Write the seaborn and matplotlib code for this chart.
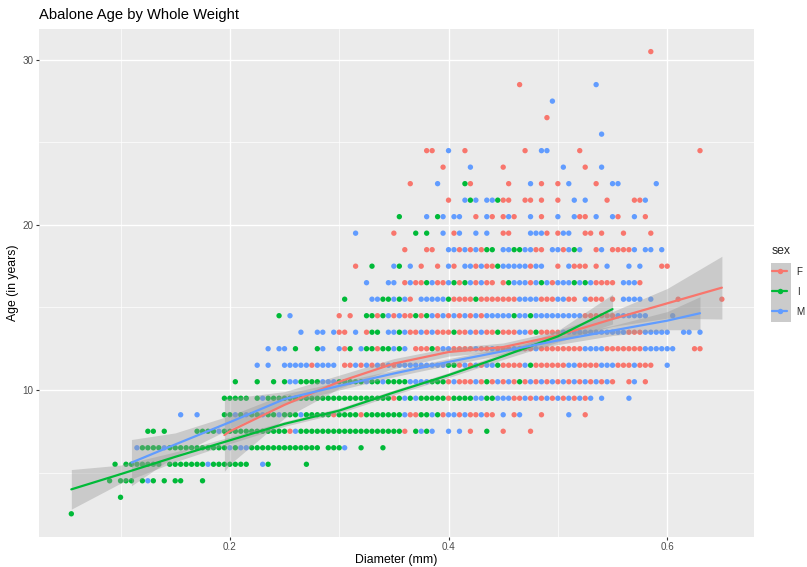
import numpy as np
import pandas as pd
import matplotlib
matplotlib.use("Agg")
import matplotlib.pyplot as plt
import seaborn as sns
from matplotlib.lines import Line2D
from matplotlib.patches import Rectangle

# diameter is recorded on a 0.005 grid, ages are rings + 1.5
STEP = 0.005
ages = [2.5, 3.5, 4.5, 5.5, 6.5, 7.5, 8.5, 9.5, 10.5, 11.5, 12.5, 13.5, 14.5, 15.5,
        16.5, 17.5, 18.5, 19.5, 20.5, 21.5, 22.5, 23.5, 24.5, 25.5, 26.5, 27.5,
        28.5, 29.5, 30.5]

# visible points per age row, as runs of grid steps (k * 0.005 = diameter)
infant_runs = [
    "11", "20", "18,20-22,24,26,28,30-31,35", "19,21-27,29-35,37-43,47,54",
    "24-27,29-39,41,44-56,58-60,64,68", "25-26,28,34-37,39-50,53-71,74,76,87",
    "39-40,42,44-45,47-48,50-52,54-58,60-63,65-71,75-76,78",
    "39-43,45,47-69,71,73,75-79,81-84,87-88",
    "41,45,48,50,53-56,60-64,66-67,69-72,77-79,87,93",
    "80-81,89,95", "52,56,62,65-66,68-69,71,77", "66-67,71,81,89,96",
    "49,65-66,68,74,76,92,95", "61,68-69,71,80,85", "76,81,83,91,97,103,105",
    "66,71,89", "87-88,92-93,103", "74,76", "71,78", "84,89", "83",
    "", "", "", "", "", "", "", "",
]
male_runs = [
    "", "", "25", "36,46", "23,28,40,42-43,61", "38,52,75,77,80,82",
    "31,34,41,43,46,49,53,72,77,80-81,83,86,90,93,102",
    "46,72,74,85-86,89-91,94,96,98,100,102,104,106,108,113",
    "51-52,57-59,65,68,73-76,81,85,89,91,95,97,99,101,103,105,107,109,114",
    "45,47,50-54,56-59,63,65,67,69,71-79,83,85,87-88,94,102-103,108-110,114,120",
    "47,49-50,57,60,64,70,72,79-80,85,88,92,96,105-108,116-121",
    "53,56-57,59,63,69-70,72,75,77,84,86,93-94,101-112,116-120,123-124,126",
    "51,69,71,77,79,81,83,85,87-91,93-94,96-104,111-116,121",
    "66-67,70,72,75-79,93-96,100-101,105,112-115,117",
    "65,69-70,73,77,80,84,86,92-94,96,98,100-102,104,106,112-114",
    "70,73,80,83-84,86,90-94,96-97,102,109,113,115",
    "80-81,83,85,90-91,94-95,99-100,102,104,108,114,116-117,119",
    "63,79,82,85,87,95-97,101-102",
    "76,79,81-82,87,91,95,100,103,107,110,114",
    "83,85,87-88,103,105,116", "78,95,102,110-111,118", "84,101,108", "80,97-98",
    "108", "", "99", "107", "", "",
]
female_runs = [
    "", "", "", "", "", "51,72,84,90,95",
    "59,64,73-74,79,82,84-85,87-88,92,97,105",
    "70,80,92-93,95,97,99,101,103,105",
    "80,82-84,86,88,90,92,94,96,98,100,102,104,106,108,110,113,116",
    "55,61-62,64,66,68,70,82,84,86,90-93,96-101,104-107,111-113,115-117",
    "61,67,74-76,78,81-84,86-87,89-91,93-95,97-104,109-115,125-126",
    "60-61,65,73-74,76,78-80,82-83,85,87-88,90-92,95,97-100,113-115",
    "60,62,67,70,72-73,75,78,80,82,84,86,105-110",
    "73,81-84,86-92,97-99,102-103,106-108,110,122,130",
    "72,74-75,78-79,82,85,87-88,90,95,99,107-110,115",
    "63,75,78,81,85,87-88,95,100,103-105,107,119-120",
    "72,76-77,82,84,86,96-97,101,107,110-113",
    "70,81,90-91,98,100,105-106,108,112,117",
    "85,88,90,92,97,104-105,111,116",
    "80,90-91,94-95,97,100,109,114-115",
    "73,84,91,97,100,107", "79,90,105", "76-77,83,94,104,126",
    "", "98", "", "93", "", "117",
]

# smoothed trend per sex (fit and half-width of the confidence band)
f_diam = [0.195, 0.2, 0.25, 0.3, 0.35, 0.4, 0.45, 0.5, 0.55, 0.6, 0.65]
f_fit = [7.27, 7.5, 9.1, 10.5, 11.6, 12.3, 12.6, 13.3, 14.3, 15.25, 16.2]
f_se = [2.2, 2.0, 0.8, 0.4, 0.3, 0.25, 0.25, 0.3, 0.45, 0.9, 1.9]

i_diam = [0.055, 0.1, 0.15, 0.2, 0.25, 0.3, 0.35, 0.4, 0.45, 0.5, 0.55]
i_fit = [3.98, 4.9, 5.95, 6.95, 7.95, 8.75, 9.85, 10.9, 12.05, 13.25, 14.9]
i_se = [1.2, 0.55, 0.3, 0.2, 0.15, 0.15, 0.15, 0.15, 0.2, 0.35, 0.9]

m_diam = [0.11, 0.15, 0.2, 0.25, 0.3, 0.35, 0.4, 0.45, 0.5, 0.55, 0.6, 0.63]
m_fit = [5.6, 6.7, 8.05, 9.45, 10.25, 11.0, 11.7, 12.35, 13.0, 13.6, 14.2, 14.65]
m_se = [1.4, 0.7, 0.4, 0.3, 0.25, 0.2, 0.2, 0.2, 0.25, 0.3, 0.55, 1.0]

sexes = ["F", "I", "M"]
palette = {"F": "#F8766D", "I": "#00BA38", "M": "#619CFF"}


def expand(runs, sex):
    rows = []
    for age, spec in zip(ages, runs):
        for part in spec.split(","):
            if not part:
                continue
            a, _, b = part.partition("-")
            for k in range(int(a), int(b or a) + 1):
                rows.append({"diameter": round(k * STEP, 3), "age": age, "sex": sex})
    return rows


points = pd.DataFrame(expand(female_runs, "F") + expand(infant_runs, "I")
                      + expand(male_runs, "M"))

smooth = pd.concat([
    pd.DataFrame({"diameter": f_diam, "age": f_fit, "se": f_se, "sex": "F"}),
    pd.DataFrame({"diameter": i_diam, "age": i_fit, "se": i_se, "sex": "I"}),
    pd.DataFrame({"diameter": m_diam, "age": m_fit, "se": m_se, "sex": "M"}),
], ignore_index=True)

sns.set_theme(style="darkgrid")
plt.rcParams.update({
    "font.family": ["Liberation Sans", "DejaVu Sans"],
    "axes.facecolor": "#EBEBEB",
    "figure.facecolor": "white",
    "grid.color": "white",
})

W, H = 807, 567
fig = plt.figure(figsize=(W / 100, H / 100), dpi=100)
ax = fig.add_axes([38.8 / W, 1 - 536.9 / H, (754.4 - 38.8) / W, (536.9 - 28.5) / H])

sns.scatterplot(data=points, x="diameter", y="age", hue="sex", hue_order=sexes,
                palette=palette, s=15, linewidth=0, legend=False, ax=ax, zorder=2)

for sex in sexes:
    part = smooth[smooth["sex"] == sex]
    ax.fill_between(part["diameter"], part["age"] - part["se"], part["age"] + part["se"],
                    color="#999999", alpha=0.4, linewidth=0, zorder=3)
    sns.lineplot(data=part, x="diameter", y="age", color=palette[sex], linewidth=1.6,
                 ax=ax, zorder=4)

ax.set_xlim(0.02525, 0.67975)
ax.set_ylim(1.1, 31.9)
ax.set_xticks([0.2, 0.4, 0.6])
ax.set_xticklabels(["0.2", "0.4", "0.6"])
ax.set_xticks([0.1, 0.3, 0.5], minor=True)
ax.set_yticks([10, 20, 30])
ax.set_yticklabels(["10", "20", "30"])
ax.set_yticks([5, 15, 25], minor=True)
ax.grid(which="major", color="white", linewidth=1.0)
ax.grid(which="minor", color="white", linewidth=0.5)
ax.tick_params(which="major", length=2.2, width=0.8, color="#333333", labelsize=7.1,
               labelcolor="#4D4D4D", pad=1.8, bottom=True, left=True)
ax.tick_params(which="minor", length=0)
for s in ax.spines.values():
    s.set_visible(False)

ax.set_xlabel("Diameter (mm)", fontsize=8.85, color="black", labelpad=1.2)
ax.set_ylabel("Age (in years)", fontsize=8.85, color="black", labelpad=2.5)
fig.text(39 / W, 1 - 18.5 / H, "Abalone Age by Whole Weight", fontsize=10.6,
         color="black", ha="left", va="baseline")

# legend: line + point keys on the grey band background
fig.add_artist(Rectangle((771 / W, 1 - 322 / H), 20 / W, 59 / H,
                         transform=fig.transFigure, facecolor="#CBCBCB",
                         edgecolor="none", zorder=0))
handles = [Line2D([], [], color=palette[s], marker="o", markersize=3.9,
                  markeredgewidth=0, linewidth=1.6) for s in sexes]
fig.legend(handles, sexes, title="sex", loc="upper left",
           bbox_to_anchor=(772 / W, 1 - 245 / H), frameon=False, fontsize=7.1,
           title_fontsize=8.85, handlelength=1.55, handletextpad=0.95,
           labelspacing=1.0, alignment="left", borderpad=0, borderaxespad=0)

fig.savefig("out.png", dpi=100)
